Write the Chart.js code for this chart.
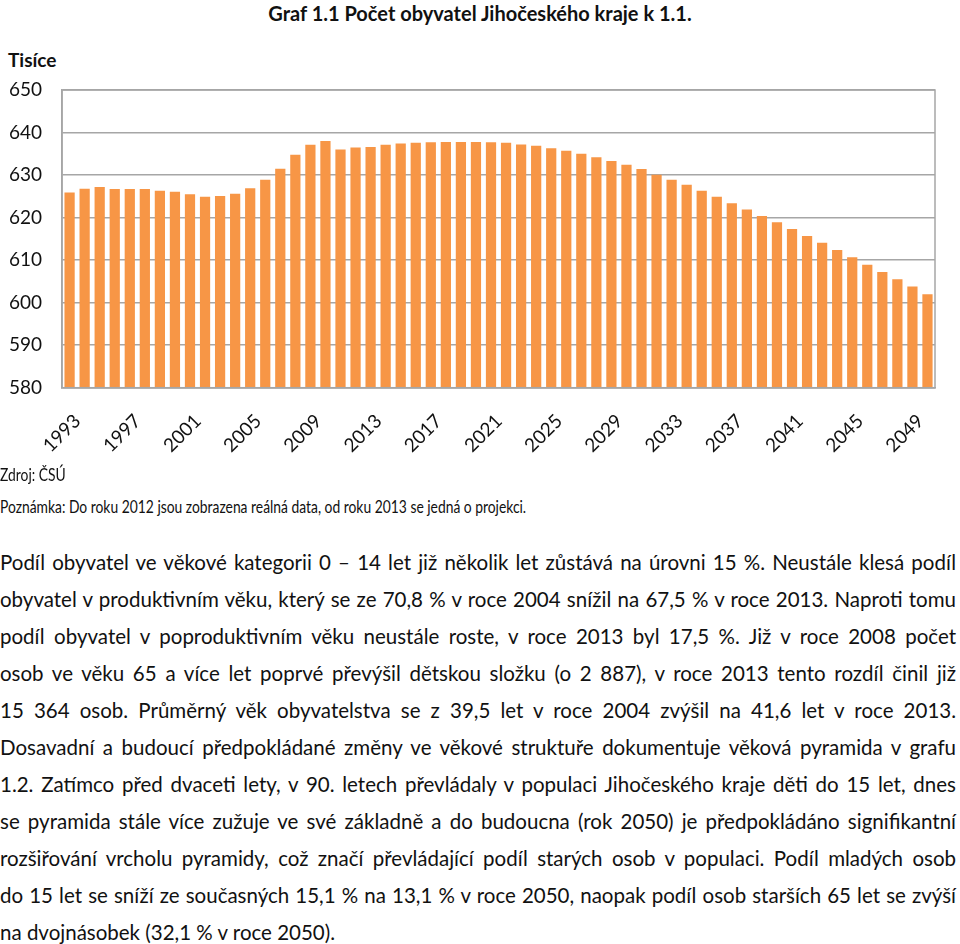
<!DOCTYPE html>
<html>
<head>
<meta charset="utf-8">
<script src="https://cdn.jsdelivr.net/npm/chart.js@4/dist/chart.umd.min.js"></script>
<style>
  body { margin: 0; background: #fff; font-family: Lato, "Open Sans", sans-serif; color: #111; }
  #page { position: relative; width: 960px; height: 944px; overflow: hidden; }
  #title { position: absolute; top: 1px; left: 0; width: 960px; text-align: center; font-weight: bold; font-size: 20px; }
  #unit { position: absolute; top: 48px; left: 8px; font-weight: bold; font-size: 19px; }
  #wrap { position: absolute; top: 30px; left: 0; width: 960px; height: 445px; }
  .note { position: absolute; left: 0; font-size: 16.5px; transform: scaleX(0.84); transform-origin: left top; white-space: nowrap; }
  #para { position: absolute; top: 548px; left: 0; width: 956px; font-size: 20.5px; }
  #para div { height: 37px; line-height: 28px; white-space: nowrap; text-align: justify; text-align-last: justify; }
  #para div.last { text-align-last: left; }
</style>
</head>
<body>
<div id="page">
  <div id="title">Graf 1.1 Počet obyvatel Jihočeského kraje k 1.1.</div>
  <div id="unit">Tisíce</div>
  <div id="wrap"><canvas id="popChart"></canvas></div>
  <div class="note" style="top:465px">Zdroj: ČSÚ</div>
  <div class="note" style="top:497px">Poznámka: Do roku 2012 jsou zobrazena reálná data, od roku 2013 se jedná o projekci.</div>
  <div id="para">
    <div>Podíl obyvatel ve věkové kategorii 0 – 14 let již několik let zůstává na úrovni 15 %. Neustále klesá podíl</div>
    <div>obyvatel v produktivním věku, který se ze 70,8 % v roce 2004 snížil na 67,5 % v roce 2013. Naproti tomu</div>
    <div>podíl obyvatel v poproduktivním věku neustále roste, v roce 2013 byl 17,5 %. Již v roce 2008 počet</div>
    <div>osob ve věku 65 a více let poprvé převýšil dětskou složku (o 2 887), v roce 2013 tento rozdíl činil již</div>
    <div>15 364 osob. Průměrný věk obyvatelstva se z 39,5 let v roce 2004 zvýšil na 41,6 let v roce 2013.</div>
    <div>Dosavadní a budoucí předpokládané změny ve věkové struktuře dokumentuje věková pyramida v grafu</div>
    <div>1.2. Zatímco před dvaceti lety, v 90. letech převládaly v populaci Jihočeského kraje děti do 15 let, dnes</div>
    <div>se pyramida stále více zužuje ve své základně a do budoucna (rok 2050) je předpokládáno signifikantní</div>
    <div>rozšiřování vrcholu pyramidy, což značí převládající podíl starých osob v populaci. Podíl mladých osob</div>
    <div>do 15 let se sníží ze současných 15,1 % na 13,1 % v roce 2050, naopak podíl osob starších 65 let se zvýší</div>
    <div class="last">na dvojnásobek (32,1 % v roce 2050).</div>
  </div>
</div>
<script>
// years 1993 - 2050
const years = [];
for (let y = 1993; y <= 2050; y++) years.push(String(y));

// population in thousands
const population = [
  625.9, 626.8, 627.2, 626.7, 626.7, 626.7, 626.3, 626.1, 625.5, 624.9,
  625.1, 625.6, 626.9, 628.9, 631.5, 634.8, 637.1, 638.0, 636.0, 636.5,
  636.6, 637.1, 637.4, 637.6, 637.7, 637.8, 637.8, 637.8, 637.7, 637.6,
  637.2, 636.9, 636.3, 635.7, 635.0, 634.2, 633.3, 632.4, 631.4, 630.1,
  628.9, 627.7, 626.3, 624.9, 623.4, 621.9, 620.4, 618.9, 617.3, 615.7,
  614.1, 612.4, 610.7, 608.9, 607.2, 605.5, 603.8, 602.0
];

const yMin = 580, yMax = 650, yStep = 10;

// frame round the plot area
const frame = {
  id: 'frame',
  afterDraw(chart) {
    const a = chart.chartArea, ctx = chart.ctx;
    ctx.save();
    ctx.strokeStyle = '#a6a6a6';
    ctx.lineWidth = 1.5;
    ctx.strokeRect(a.left, a.top, a.right - a.left, a.bottom - a.top);
    ctx.restore();
  }
};

const ctx = document.getElementById('popChart').getContext('2d');
new Chart(ctx, {
  type: 'bar',
  data: {
    labels: years,
    datasets: [{
      label: 'Počet obyvatel',
      data: population,
      backgroundColor: '#F79646',
      barPercentage: 0.68,
      categoryPercentage: 1.0
    }]
  },
  options: {
    responsive: true,
    maintainAspectRatio: false,
    animation: false,
    layout: { padding: { left: -11, right: 25, top: 60, bottom: 4 } },
    plugins: {
      legend: { display: false },
      tooltip: { enabled: false }
    },
    scales: {
      x: {
        grid: { display: false },
        border: { display: true, color: '#a6a6a6', width: 1.5 },
        ticks: {
          autoSkip: false,
          minRotation: 45,
          maxRotation: 45,
          padding: 14,
          labelOffset: 8,
          color: '#111',
          font: { family: 'Lato', size: 19 },
          callback: function (val, i) { return i % 4 === 0 ? years[i] : ''; }
        }
      },
      y: {
        min: yMin,
        max: yMax,
        grid: { color: '#a6a6a6', lineWidth: 1.5, drawTicks: false },
        border: { display: true, color: '#a6a6a6', width: 1.5 },
        ticks: {
          stepSize: yStep,
          padding: 20,
          color: '#111',
          font: { family: 'Lato', size: 19 }
        }
      }
    }
  },
  plugins: [frame]
});
</script>
</body>
</html>
